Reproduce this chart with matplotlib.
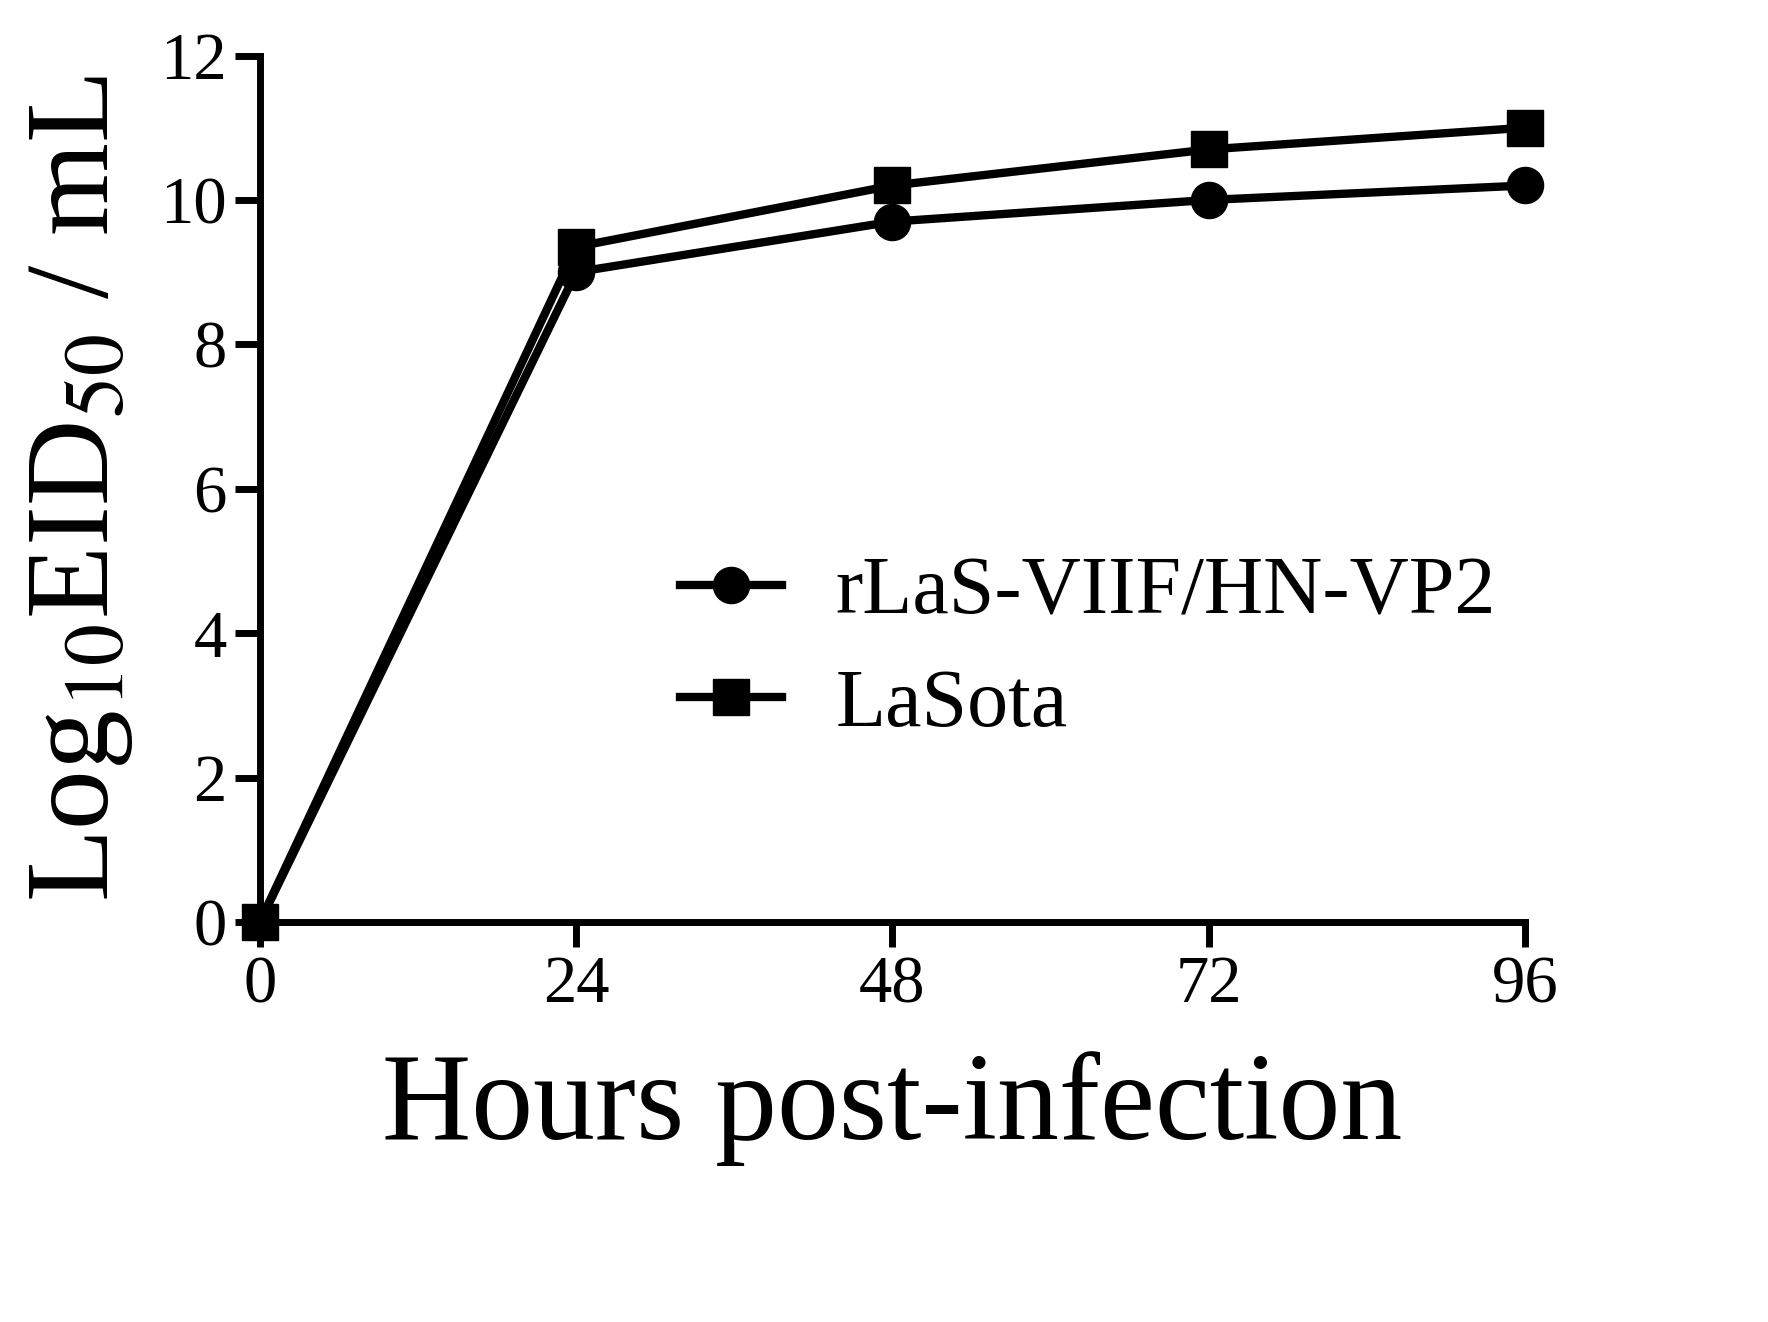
import matplotlib
matplotlib.use("Agg")
import matplotlib.pyplot as plt

hours = [0, 24, 48, 72, 96]
rlas = [0, 9.0, 9.7, 10.0, 10.2]
lasota = [0, 9.35, 10.2, 10.7, 11.0]
xticks = [0, 24, 48, 72, 96]
yticks = [0, 2, 4, 6, 8, 10, 12]

plt.rcParams['font.family'] = ['Liberation Serif', 'DejaVu Serif']
plt.rcParams['mathtext.fontset'] = 'stix'
fig = plt.figure(figsize=(17.68, 13.22), dpi=100)
ax = fig.add_axes([0.147, 0.3026, 0.7156, 0.6554])
ax.plot(hours, rlas, '-o', color='black', lw=6, ms=26, label='rLaS-VIIF/HN-VP2', clip_on=False, zorder=3)
ax.plot(hours, lasota, '-s', color='black', lw=6, ms=26, label='LaSota', clip_on=False, zorder=3)
ax.set_xlim(0, 96)
ax.set_ylim(0, 12)
ax.set_xticks(xticks)
ax.set_yticks(yticks)
ax.tick_params(labelsize=48, width=5, length=18, pad=6)
for s in ['top', 'right']:
    ax.spines[s].set_visible(False)
for s in ['left', 'bottom']:
    ax.spines[s].set_linewidth(5)
ax.set_xlabel('Hours post-infection', fontsize=89, labelpad=25)
ax.set_ylabel(r'Log$_{10}$EID$_{50}$ / mL', fontsize=86, labelpad=18)
ax.legend(loc='center left', bbox_to_anchor=(0.332, 0.314), frameon=False, fontsize=59,
          handlelength=1.25, labelspacing=0.45, handletextpad=0.65,
          borderaxespad=0, borderpad=0)
fig.savefig('out.png', dpi=100)
